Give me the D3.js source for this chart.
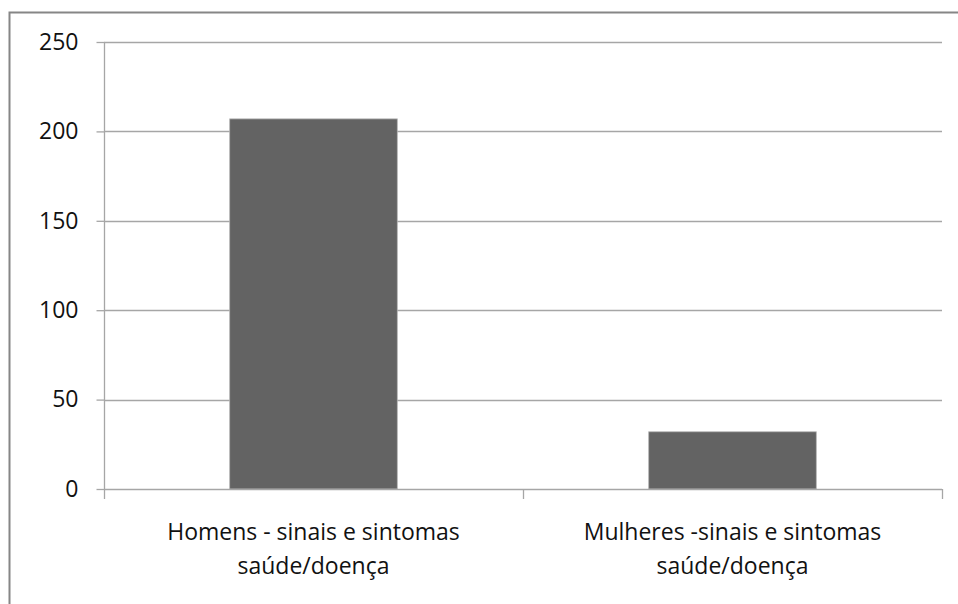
<!DOCTYPE html>
<html>
<head>
<meta charset="utf-8">
<script src="https://cdn.jsdelivr.net/npm/d3@7"></script>
<style>
  html, body { margin: 0; padding: 0; background: #fff; }
  svg { display: block; }
</style>
</head>
<body>
<script>
// Chart data
const categories = [
  ["Homens - sinais e sintomas", "saúde/doença"],
  ["Mulheres -sinais e sintomas", "saúde/doença"]
];
const values = [207, 32];
const yTicks = [0, 50, 100, 150, 200, 250];

const W = 958, H = 604;
const plot = { left: 104, right: 942, top: 42, bottom: 489 };

const svg = d3.select("body").append("svg")
  .attr("width", W).attr("height", H);

// Outer chart frame
svg.append("rect")
  .attr("x", 9.5).attr("y", 12.5)
  .attr("width", W + 10).attr("height", H + 10)
  .attr("fill", "#fff")
  .attr("stroke", "#868686").attr("stroke-width", 2);

const x = d3.scaleBand()
  .domain(categories.map((d, i) => i))
  .range([plot.left, plot.right])
  .paddingInner(0).paddingOuter(0);

const y = d3.scaleLinear().domain([0, 250]).range([plot.bottom, plot.top]);

const font = "'Open Sans', 'DejaVu Sans', sans-serif";
const fontSize = 23;

// Horizontal gridlines
svg.append("g").selectAll("line")
  .data(yTicks.filter(t => t > 0))
  .join("line")
  .attr("x1", plot.left).attr("x2", plot.right)
  .attr("y1", d => Math.round(y(d)) + 0.5).attr("y2", d => Math.round(y(d)) + 0.5)
  .attr("stroke", "#a6a6a6").attr("stroke-width", 1.3);

// Y axis
const yAxis = svg.append("g")
  .attr("transform", `translate(${plot.left + 0.5},0)`)
  .call(d3.axisLeft(y).tickValues(yTicks).tickSize(8).tickPadding(18));
yAxis.select(".domain").attr("stroke", "#a6a6a6").attr("stroke-width", 1.3)
  .attr("d", `M0,${plot.top}V${plot.bottom + 0.5}`);
yAxis.selectAll(".tick line").attr("stroke", "#a6a6a6").attr("stroke-width", 1.3);
yAxis.selectAll(".tick text")
  .attr("font-family", font).attr("font-size", fontSize).attr("fill", "#111");

// Bars
svg.append("g").selectAll("rect")
  .data(values)
  .join("rect")
  .attr("x", (d, i) => x(i) + x.bandwidth() * 0.3)
  .attr("width", x.bandwidth() * 0.4)
  .attr("y", d => y(d))
  .attr("height", d => y(0) - y(d))
  .attr("fill", "#636363")
  .attr("stroke", "#b5b5b5").attr("stroke-width", 0.8);

// X axis baseline with category boundary ticks
const xb = svg.append("g");
xb.append("line")
  .attr("x1", plot.left).attr("x2", plot.right)
  .attr("y1", plot.bottom + 0.5).attr("y2", plot.bottom + 0.5)
  .attr("stroke", "#a6a6a6").attr("stroke-width", 1.3);
const bounds = categories.map((d, i) => x(i)).concat([plot.right]);
xb.selectAll("line.tk")
  .data(bounds)
  .join("line").attr("class", "tk")
  .attr("x1", d => Math.round(d) + 0.5).attr("x2", d => Math.round(d) + 0.5)
  .attr("y1", plot.bottom).attr("y2", plot.bottom + 10)
  .attr("stroke", "#a6a6a6").attr("stroke-width", 1.3);

// Category labels (two lines each)
const labels = svg.append("g").selectAll("text")
  .data(categories)
  .join("text")
  .attr("text-anchor", "middle")
  .attr("font-family", font).attr("font-size", fontSize).attr("fill", "#111")
  .attr("transform", (d, i) => `translate(${x(i) + x.bandwidth() / 2},540)`);
labels.selectAll("tspan")
  .data(d => d)
  .join("tspan")
  .attr("x", 0)
  .attr("dy", (d, j) => j === 0 ? 0 : 34)
  .text(d => d);
</script>
</body>
</html>
